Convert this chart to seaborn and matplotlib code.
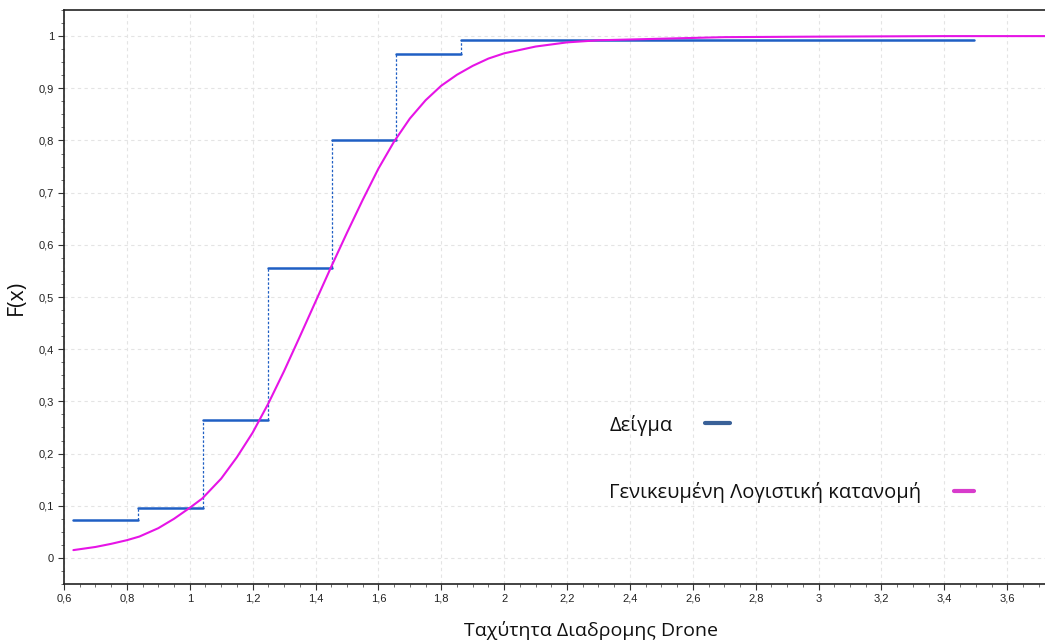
import numpy as np
import pandas as pd
import matplotlib
matplotlib.use("Agg")
import matplotlib.pyplot as plt
from matplotlib.lines import Line2D
from matplotlib.ticker import MultipleLocator, FuncFormatter
import seaborn as sns

# ---- data ----
step_edges = [0.630, 0.837, 1.041, 1.248, 1.452, 1.657, 1.864, 3.495]
step_levels = [0.073, 0.096, 0.265, 0.556, 0.800, 0.966, 0.993]

fit_x = [0.63, 0.70, 0.75, 0.80, 0.84, 0.90, 0.95, 1.00, 1.04, 1.10, 1.15, 1.20,
         1.25, 1.30, 1.35, 1.40, 1.45, 1.50, 1.55, 1.60, 1.65, 1.70, 1.75, 1.80,
         1.85, 1.90, 1.95, 2.00, 2.10, 2.20, 2.30, 2.50, 2.70, 3.00, 3.40, 3.72]
fit_y = [0.015, 0.021, 0.027, 0.034, 0.041, 0.057, 0.075, 0.096, 0.114, 0.152, 0.193, 0.240,
         0.296, 0.358, 0.424, 0.491, 0.558, 0.623, 0.686, 0.746, 0.798, 0.842, 0.877, 0.905,
         0.926, 0.943, 0.957, 0.967, 0.980, 0.988, 0.992, 0.995, 0.998, 0.999, 1.000, 1.000]

x_label = "Ταχύτητα Διαδρομης Drone"
y_label = "F(x)"
legend_sample = "Δείγμα"
legend_fit = "Γενικευμένη Λογιστική κατανομή"

blue = "#1f5fc4"
blue_leg = "#3a6198"
magenta = "#e614e6"
magenta_leg = "#d83ccc"

sns.set_theme(style="white")
plt.rcParams['font.family'] = ['Open Sans', 'DejaVu Sans']

fig = plt.figure(figsize=(10.45, 6.42), dpi=100)
ax = fig.add_axes([0.0612, 0.0903, 0.9388, 0.8941])

# horizontal segments of the empirical CDF (long-form for seaborn)
rows = []
for i, lvl in enumerate(step_levels):
    rows.append({"seg": i, "x": step_edges[i], "y": lvl})
    rows.append({"seg": i, "x": step_edges[i + 1], "y": lvl})
seg_df = pd.DataFrame(rows)
sns.lineplot(data=seg_df, x="x", y="y", units="seg", estimator=None,
             color=blue, lw=1.8, ax=ax, zorder=3)
# dotted vertical risers
ax.vlines(step_edges[1:len(step_levels)], step_levels[:-1], step_levels[1:],
          colors=blue, linestyles=(0, (2, 1.5)), lw=0.9, zorder=3)

fit_df = pd.DataFrame({"x": fit_x, "y": fit_y})
sns.lineplot(data=fit_df, x="x", y="y", color=magenta, lw=1.5, ax=ax, zorder=4)

ax.set_xlim(0.6, 3.72)
ax.set_ylim(-0.05, 1.05)

ax.xaxis.set_major_locator(MultipleLocator(0.2))
ax.xaxis.set_minor_locator(MultipleLocator(0.05))
ax.yaxis.set_major_locator(MultipleLocator(0.1))
ax.yaxis.set_minor_locator(MultipleLocator(0.025))

def comma(v, pos):
    s = f"{v:.1f}".rstrip("0").rstrip(".")
    if s == "-0":
        s = "0"
    return s.replace(".", ",")

ax.xaxis.set_major_formatter(FuncFormatter(comma))
ax.yaxis.set_major_formatter(FuncFormatter(comma))

ax.tick_params(axis="both", which="major", direction="out", length=4, width=0.8,
               color="#333333", labelsize=8, labelcolor="#222222", pad=3,
               bottom=True, left=True)
ax.tick_params(axis="both", which="minor", direction="out", length=2, width=0.6,
               color="#555555", bottom=True, left=True)
for lab in ax.get_xticklabels() + ax.get_yticklabels():
    lab.set_fontfamily(["Liberation Sans Narrow", "Liberation Sans", "DejaVu Sans"])

ax.grid(True, which="major", color="#e4e4e4", linestyle=(0, (3, 3)), lw=0.8)
ax.set_axisbelow(True)

for side in ["top", "left", "bottom"]:
    ax.spines[side].set_color("#222222")
    ax.spines[side].set_linewidth(1.2)
ax.spines["right"].set_visible(False)

ax.set_xlabel(x_label, fontsize=14, color="#111111")
ax.set_ylabel(y_label, fontsize=15.5, color="#111111")
ax.xaxis.set_label_coords(0.537, -0.065)
ax.yaxis.set_label_coords(-0.038, 0.5)

h1 = Line2D([], [], color=blue_leg, lw=3)
h2 = Line2D([], [], color=magenta_leg, lw=3)
leg1 = ax.legend(handles=[h1], labels=[legend_sample], loc="center left",
                 bbox_to_anchor=(0.556, 0.277), frameon=False, markerfirst=False,
                 fontsize=14.5, handlelength=1.25, handletextpad=1.6,
                 borderpad=0, borderaxespad=0)
ax.add_artist(leg1)
leg2 = ax.legend(handles=[h2], labels=[legend_fit], loc="center left",
                 bbox_to_anchor=(0.556, 0.160), frameon=False, markerfirst=False,
                 fontsize=14.5, handlelength=1.0, handletextpad=1.6,
                 borderpad=0, borderaxespad=0)
for t in leg1.get_texts() + leg2.get_texts():
    t.set_color("#111111")

fig.savefig("out.png", dpi=100)
